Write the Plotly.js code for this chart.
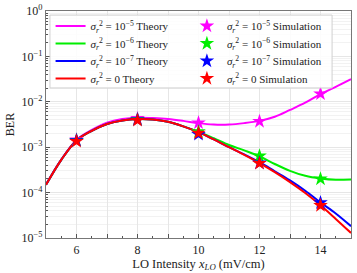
<!DOCTYPE html>
<html>
<head>
<meta charset="utf-8">
<script src="https://cdn.plot.ly/plotly-3.0.1.min.js"></script>
<style>html,body{margin:0;padding:0;background:#fff;}#chart{width:357px;height:273px;}</style>
</head>
<body>
<div id="chart"></div>
<script>
// LO intensity grid for theory curves (mV/cm)
const xTheory = [5, 5.5, 6, 6.5, 7, 7.5, 8, 8.5, 9, 9.5, 10, 10.5, 11, 11.5, 12, 12.5, 13, 13.5, 14, 14.5, 15];
// Theory BER curves
const berTheory1e5 = [1.51e-4, 5.37e-4, 1.45e-3, 2.40e-3, 3.47e-3, 4.17e-3, 4.47e-3, 4.37e-3, 4.17e-3, 3.80e-3, 3.39e-3, 3.16e-3, 3.16e-3, 3.39e-3, 3.80e-3, 4.68e-3, 6.61e-3, 9.55e-3, 1.48e-2, 2.14e-2, 3.16e-2];
const berTheory1e6 = [1.48e-4, 5.25e-4, 1.41e-3, 2.29e-3, 3.24e-3, 3.89e-3, 4.17e-3, 4.07e-3, 3.63e-3, 2.88e-3, 2.19e-3, 1.58e-3, 1.12e-3, 8.51e-4, 6.31e-4, 4.27e-4, 3.02e-4, 2.34e-4, 2.04e-4, 1.91e-4, 1.95e-4];
const berTheory1e7 = [1.48e-4, 5.25e-4, 1.41e-3, 2.29e-3, 3.24e-3, 3.89e-3, 4.17e-3, 4.07e-3, 3.63e-3, 2.88e-3, 2.14e-3, 1.48e-3, 1.00e-3, 6.92e-4, 4.68e-4, 2.95e-4, 1.86e-4, 1.10e-4, 6.03e-5, 3.47e-5, 1.82e-5];
const berTheory0   = [1.48e-4, 5.25e-4, 1.41e-3, 2.29e-3, 3.24e-3, 3.89e-3, 4.17e-3, 4.07e-3, 3.63e-3, 2.88e-3, 2.14e-3, 1.48e-3, 1.00e-3, 6.76e-4, 4.47e-4, 2.82e-4, 1.70e-4, 9.77e-5, 5.25e-5, 2.63e-5, 1.29e-5];
// Simulation points
const xSim = [6, 8, 10, 12, 14];
const berSim1e5 = [1.45e-3, 4.3e-3, 3.45e-3, 3.7e-3, 1.5e-2];
const berSim1e6 = [1.42e-3, 4.1e-3, 2.2e-3, 6.4e-4, 2.0e-4];
const berSim1e7 = [1.40e-3, 4.0e-3, 1.92e-3, 4.5e-4, 6.0e-5];
const berSim0   = [1.35e-3, 3.9e-3, 2.05e-3, 4.4e-4, 5.2e-5];
// Legend labels
const theoryNames = ['<i>σ</i><sub><i>r</i></sub><sup>2</sup> = 10<sup>−5</sup> Theory', '<i>σ</i><sub><i>r</i></sub><sup>2</sup> = 10<sup>−6</sup> Theory', '<i>σ</i><sub><i>r</i></sub><sup>2</sup> = 10<sup>−7</sup> Theory', '<i>σ</i><sub><i>r</i></sub><sup>2</sup> = 0 Theory'];
const simNames = ['<i>σ</i><sub><i>r</i></sub><sup>2</sup> = 10<sup>−5</sup> Simulation', '<i>σ</i><sub><i>r</i></sub><sup>2</sup> = 10<sup>−6</sup> Simulation', '<i>σ</i><sub><i>r</i></sub><sup>2</sup> = 10<sup>−7</sup> Simulation', '<i>σ</i><sub><i>r</i></sub><sup>2</sup> = 0 Simulation'];
// Tick labels
const xTickVals = [5, 6, 7, 8, 9, 10, 11, 12, 13, 14, 15];
const xTickText = ['', '6', '', '8', '', '10', '', '12', '', '14', ''];
const yTickVals = [1e-5, 1e-4, 1e-3, 1e-2, 1e-1, 1];
const yTickText = ['10<sup>−5</sup>', '10<sup>−4</sup>', '10<sup>−3</sup>', '10<sup>−2</sup>', '10<sup>−1</sup>', '10<sup>0</sup>'];

const colors = ['#ff00ff', '#00ee00', '#0000ff', '#ff0000'];
const theorySets = [berTheory1e5, berTheory1e6, berTheory1e7, berTheory0];
const simSets = [berSim1e5, berSim1e6, berSim1e7, berSim0];

const FONT = 'Liberation Serif, DejaVu Serif, serif';
const rowY = [0.934, 0.857, 0.780, 0.703];
const legendIds = ['legend', 'legend2', 'legend3', 'legend4', 'legend5', 'legend6', 'legend7', 'legend8'];

const traces = [];
theorySets.forEach((ys, i) => traces.push({
  x: xTheory, y: ys, type: 'scatter', mode: 'lines', name: theoryNames[i],
  line: {color: colors[i], width: 2, shape: 'spline', smoothing: 1}, legend: legendIds[i]
}));
simSets.forEach((ys, i) => traces.push({
  x: xSim, y: ys, type: 'scatter', mode: 'markers', name: simNames[i],
  marker: {color: colors[i], symbol: 'star', size: 11, line: {width: 0}}, legend: legendIds[4 + i]
}));

const layout = {
  width: 357, height: 273,
  margin: {l: 46, r: 6, t: 11, b: 35},
  paper_bgcolor: '#fff', plot_bgcolor: '#fff',
  font: {family: FONT, size: 12, color: '#222'},
  showlegend: true,
  xaxis: {
    range: [5, 15], tickvals: xTickVals, ticktext: xTickText,
    ticks: 'inside', ticklen: 4, tickcolor: '#555', tickwidth: 1,
    showgrid: true, gridcolor: '#e6e6e6', gridwidth: 1,
    showline: true, linecolor: '#777', linewidth: 1.2, mirror: true,
    zeroline: false,
    minor: {dtick: 0.5, ticks: 'inside', ticklen: 2, tickcolor: '#555', showgrid: false},
    title: {text: 'LO Intensity <i>x</i><sub><i>LO</i></sub> (mV/cm)', font: {family: FONT, size: 12.5}, standoff: 0},
    tickfont: {family: FONT, size: 12}
  },
  yaxis: {
    type: 'log', range: [-5, 0], tickvals: yTickVals, ticktext: yTickText,
    ticks: 'inside', ticklen: 4, tickcolor: '#555',
    showgrid: true, gridcolor: '#e6e6e6', gridwidth: 1,
    showline: true, linecolor: '#777', linewidth: 1.2, mirror: true,
    zeroline: false,
    minor: {dtick: 'D1', ticks: 'inside', ticklen: 2, tickcolor: '#555', showgrid: true, gridcolor: '#f2f2f2'},
    title: {text: 'BER', font: {family: FONT, size: 12}, standoff: 4},
    tickfont: {family: FONT, size: 12}
  },
  shapes: [{
    type: 'rect', xref: 'paper', yref: 'paper', x0: 0.013, x1: 0.938, y0: 0.661, y1: 0.982,
    line: {color: '#d0d0d0', width: 1}, fillcolor: 'rgba(255,255,255,0.85)', layer: 'above'
  }]
};
legendIds.forEach((id, k) => {
  layout[id] = {
    x: k < 4 ? 0.015 : 0.462, y: rowY[k % 4], xanchor: 'left', yanchor: 'middle',
    bgcolor: 'rgba(0,0,0,0)', borderwidth: 0,
    font: {family: FONT, size: 11, color: '#222'}, itemwidth: 30, tracegroupgap: 0
  };
});
Plotly.newPlot('chart', traces, layout, {displayModeBar: false, staticPlot: true});
</script>
</body>
</html>
